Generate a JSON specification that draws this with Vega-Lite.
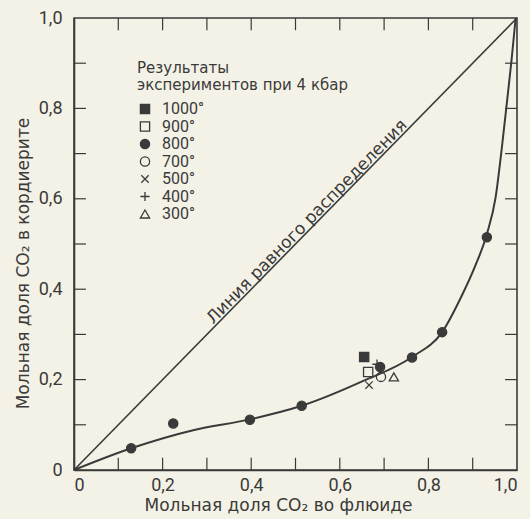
{
  "$schema": "https://vega.github.io/schema/vega-lite/v6.json",
  "width": 443,
  "height": 452,
  "autosize": {"type": "none"},
  "padding": {"left": 74, "top": 18, "right": 13, "bottom": 49},
  "background": "#f4f2e6",
  "config": {
    "view": {"stroke": "#3a3a3a", "strokeWidth": 1.6},
    "axis": {
      "grid": false,
      "domainColor": "#3a3a3a",
      "domainWidth": 1.6,
      "labelFont": "Roboto",
      "labelFontSize": 18,
      "labelColor": "#3a3a3a",
      "titleFont": "DejaVu Sans",
      "titleFontSize": 17,
      "titleFontWeight": "normal",
      "titleColor": "#3a3a3a"
    }
  },
  "datasets": {
    "tickvals": [{"v": 0.1}, {"v": 0.2}, {"v": 0.3}, {"v": 0.4}, {"v": 0.5}, {"v": 0.6}, {"v": 0.7}, {"v": 0.8}, {"v": 0.9}]
  },
  "layer": [
    {
      "data": {"values": [{"fx": 0, "fy": 0}, {"fx": 1, "fy": 1}]},
      "mark": {"type": "line", "color": "#3a3a3a", "strokeWidth": 1.6},
      "encoding": {
        "x": {
          "field": "fx", "type": "quantitative",
          "scale": {"domain": [0, 1], "nice": false},
          "axis": {
            "orient": "bottom",
            "values": [0, 0.2, 0.4, 0.6, 0.8, 1],
            "labelExpr": "datum.value == 0 ? '0' : replace(format(datum.value, '.1f'), '.', ',')",
            "ticks": false,
            "labelPadding": 6,
            "title": "Мольная доля  CO₂ во флюиде",
            "titlePadding": 3,
            "titleX": 204
          }
        },
        "y": {
          "field": "fy", "type": "quantitative",
          "scale": {"domain": [0, 1], "nice": false},
          "axis": {
            "orient": "left",
            "values": [0, 0.2, 0.4, 0.6, 0.8, 1],
            "labelExpr": "datum.value == 0 ? '0' : replace(format(datum.value, '.1f'), '.', ',')",
            "ticks": false,
            "labelPadding": 12,
            "title": "Мольная доля CO₂ в кордиерите",
            "titlePadding": 6,
            "titleY": 245
          }
        }
      }
    },
    {
      "data": {"name": "tickvals"},
      "mark": {"type": "rule", "color": "#3a3a3a", "strokeWidth": 1.2},
      "encoding": {
        "x": {"field": "v", "type": "quantitative"},
        "y": {"datum": 0},
        "y2": {"datum": 0.027}
      }
    },
    {
      "data": {"name": "tickvals"},
      "mark": {"type": "rule", "color": "#3a3a3a", "strokeWidth": 1.2},
      "encoding": {
        "x": {"field": "v", "type": "quantitative"},
        "y": {"datum": 1},
        "y2": {"datum": 0.973}
      }
    },
    {
      "data": {"name": "tickvals"},
      "mark": {"type": "rule", "color": "#3a3a3a", "strokeWidth": 1.2},
      "encoding": {
        "y": {"field": "v", "type": "quantitative"},
        "x": {"datum": 0},
        "x2": {"datum": 0.027}
      }
    },
    {
      "data": {"name": "tickvals"},
      "mark": {"type": "rule", "color": "#3a3a3a", "strokeWidth": 1.2},
      "encoding": {
        "y": {"field": "v", "type": "quantitative"},
        "x": {"datum": 1},
        "x2": {"datum": 0.973}
      }
    },
    {
      "data": {"values": [
        {"fx": 0, "fy": 0},
        {"fx": 0.129, "fy": 0.048},
        {"fx": 0.269, "fy": 0.088},
        {"fx": 0.397, "fy": 0.112},
        {"fx": 0.514, "fy": 0.142},
        {"fx": 0.653, "fy": 0.197},
        {"fx": 0.763, "fy": 0.25},
        {"fx": 0.831, "fy": 0.305},
        {"fx": 0.875, "fy": 0.385},
        {"fx": 0.905, "fy": 0.45},
        {"fx": 0.932, "fy": 0.522},
        {"fx": 0.952, "fy": 0.605},
        {"fx": 0.966, "fy": 0.715},
        {"fx": 0.978, "fy": 0.82},
        {"fx": 0.988, "fy": 0.91},
        {"fx": 0.997, "fy": 1}
      ]},
      "mark": {"type": "line", "color": "#3a3a3a", "strokeWidth": 2, "interpolate": "monotone"},
      "encoding": {
        "x": {"field": "fx", "type": "quantitative"},
        "y": {"field": "fy", "type": "quantitative"}
      }
    },
    {
      "data": {"values": [
        {"fx": 0.129, "fy": 0.048, "t": "800°"},
        {"fx": 0.224, "fy": 0.103, "t": "800°"},
        {"fx": 0.397, "fy": 0.111, "t": "800°"},
        {"fx": 0.514, "fy": 0.142, "t": "800°"},
        {"fx": 0.691, "fy": 0.228, "t": "800°"},
        {"fx": 0.763, "fy": 0.249, "t": "800°"},
        {"fx": 0.831, "fy": 0.305, "t": "800°"},
        {"fx": 0.932, "fy": 0.515, "t": "800°"},
        {"fx": 0.655, "fy": 0.25, "t": "1000°"},
        {"fx": 0.664, "fy": 0.217, "t": "900°"},
        {"fx": 0.666, "fy": 0.188, "t": "500°"},
        {"fx": 0.684, "fy": 0.234, "t": "400°"},
        {"fx": 0.693, "fy": 0.206, "t": "700°"},
        {"fx": 0.722, "fy": 0.206, "t": "300°"}
      ]},
      "mark": {"type": "point", "stroke": "#3a3a3a", "strokeWidth": 1.3, "size": 85, "opacity": 1, "fillOpacity": 1},
      "encoding": {
        "x": {"field": "fx", "type": "quantitative"},
        "y": {"field": "fy", "type": "quantitative"},
        "shape": {
          "field": "t", "type": "nominal",
          "scale": {
            "domain": ["1000°", "900°", "800°", "700°", "500°", "400°", "300°"],
            "range": ["square", "square", "circle", "circle", "M-0.8,-0.8L0.8,0.8M-0.8,0.8L0.8,-0.8", "M-1,0L1,0M0,-1L0,1", "triangle-up"]
          },
          "legend": {
            "orient": "none", "legendX": 63, "legendY": 43,
            "title": ["Результаты", "экспериментов при 4 кбар"],
            "titleFont": "DejaVu Sans", "titleFontSize": 15, "titleFontWeight": "normal", "titleColor": "#3a3a3a",
            "titleLineHeight": 17, "titlePadding": 8, "titleLimit": 400,
            "labelFont": "Roboto",
            "labelFontSize": 16, "labelColor": "#3a3a3a",
            "labelExpr": "length(datum.label) < 5 ? '\u2007' + datum.label : datum.label",
            "labelOffset": 9, "rowPadding": 1.5, "symbolOffset": 0, "symbolSize": 85,
            "symbolStrokeWidth": 1.3,
            "encode": {"symbols": {"update": {"stroke": {"value": "#3a3a3a"}, "strokeWidth": {"value": 1.3}}}}
          }
        },
        "fill": {
          "field": "t", "type": "nominal",
          "scale": {
            "domain": ["1000°", "900°", "800°", "700°", "500°", "400°", "300°"],
            "range": ["#3a3a3a", "transparent", "#3a3a3a", "transparent", "transparent", "transparent", "transparent"]
          },
          "legend": {
            "orient": "none", "legendX": 63, "legendY": 43,
            "title": ["Результаты", "экспериментов при 4 кбар"],
            "titleFont": "DejaVu Sans", "titleFontSize": 15, "titleFontWeight": "normal", "titleColor": "#3a3a3a",
            "titleLineHeight": 17, "titlePadding": 8, "titleLimit": 400,
            "labelFont": "Roboto",
            "labelFontSize": 16, "labelColor": "#3a3a3a",
            "labelExpr": "length(datum.label) < 5 ? '\u2007' + datum.label : datum.label",
            "labelOffset": 9, "rowPadding": 1.5, "symbolOffset": 0, "symbolSize": 85,
            "symbolStrokeWidth": 1.3,
            "encode": {"symbols": {"update": {"stroke": {"value": "#3a3a3a"}, "strokeWidth": {"value": 1.3}}}}
          }
        }
      }
    },
    {
      "data": {"values": [{"fx": 0.526, "fy": 0.549, "label": "Линия равного распределения"}]},
      "mark": {"type": "text", "angle": 314.4, "font": "DejaVu Sans", "fontSize": 17, "color": "#3a3a3a", "align": "center", "baseline": "middle"},
      "encoding": {
        "x": {"field": "fx", "type": "quantitative"},
        "y": {"field": "fy", "type": "quantitative"},
        "text": {"field": "label", "type": "nominal"}
      }
    }
  ]
}
